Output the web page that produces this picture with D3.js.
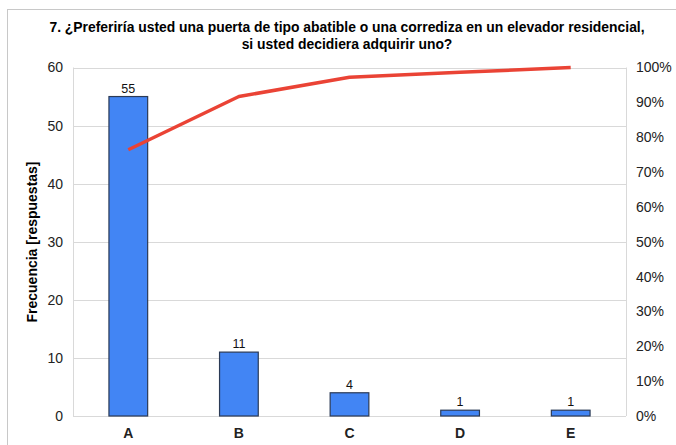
<!DOCTYPE html>
<html>
<head>
<meta charset="utf-8">
<script src="https://cdn.jsdelivr.net/npm/d3@7"></script>
<style>
  html, body { margin: 0; padding: 0; background: #fff; }
  svg { display: block; font-family: "Liberation Sans", Arial, sans-serif; }
</style>
</head>
<body>
<svg id="chart" width="676" height="445"></svg>
<script>
// Categories and response counts
const categories = ["A", "B", "C", "D", "E"];
const counts = [55, 11, 4, 1, 1];
const leftTicks = [0, 10, 20, 30, 40, 50, 60];
const rightTicks = [0, 0.1, 0.2, 0.3, 0.4, 0.5, 0.6, 0.7, 0.8, 0.9, 1];
const titleLines = [
  "7. ¿Preferiría usted una puerta de tipo abatible o una corrediza en un elevador residencial,",
  "si usted decidiera adquirir uno?"
];
const yTitle = "Frecuencia [respuestas]";

// Cumulative share for the Pareto line
const total = d3.sum(counts);
const cumulative = d3.cumsum(counts).map(v => v / total);

const svg = d3.select("#chart");
const W = 676, H = 445;
const plot = { left: 73, right: 626, top: 67.5, bottom: 416 };

// Outer frame
svg.append("rect")
  .attr("x", 7.5).attr("y", 9.5)
  .attr("width", W + 10).attr("height", H + 10)
  .attr("fill", "none").attr("stroke", "#c8c8c8").attr("stroke-width", 1);

// Title
svg.append("g").selectAll("text").data(titleLines).join("text")
  .attr("x", 347).attr("y", (d, i) => 32 + i * 17)
  .attr("text-anchor", "middle")
  .attr("font-weight", "bold").attr("font-size", 13.9).attr("fill", "#000")
  .text(d => d);

const x = d3.scaleBand().domain(categories).range([plot.left, plot.right]).paddingInner(0).paddingOuter(0);
const y = d3.scaleLinear().domain([0, 60]).range([plot.bottom, plot.top]);
const yr = d3.scaleLinear().domain([0, 1]).range([plot.bottom, plot.top]);

// Gridlines
svg.append("g").selectAll("line").data(leftTicks).join("line")
  .attr("x1", plot.left).attr("x2", plot.right)
  .attr("y1", d => Math.round(y(d)) + 0.5).attr("y2", d => Math.round(y(d)) + 0.5)
  .attr("stroke", "#d9d9d9").attr("stroke-width", 1);

// Plot frame sides
svg.append("line").attr("x1", plot.left + 0.5).attr("x2", plot.left + 0.5)
  .attr("y1", plot.top).attr("y2", plot.bottom).attr("stroke", "#d9d9d9");
svg.append("line").attr("x1", plot.right + 0.5).attr("x2", plot.right + 0.5)
  .attr("y1", plot.top).attr("y2", plot.bottom).attr("stroke", "#d9d9d9");

// Left axis
const leftAxis = d3.axisLeft(y).tickValues(leftTicks).tickSize(0).tickPadding(10).tickFormat(d3.format("d"));
const gl = svg.append("g").attr("transform", `translate(${plot.left},0)`).call(leftAxis);
gl.select(".domain").remove();
gl.selectAll("text").attr("font-size", 14).attr("fill", "#222").attr("font-family", "Liberation Sans, Arial, sans-serif");

// Right axis
const rightAxis = d3.axisRight(yr).tickValues(rightTicks).tickSize(0).tickPadding(10).tickFormat(d3.format(".0%"));
const gr = svg.append("g").attr("transform", `translate(${plot.right},0)`).call(rightAxis);
gr.select(".domain").remove();
gr.selectAll("text").attr("font-size", 14).attr("fill", "#222").attr("font-family", "Liberation Sans, Arial, sans-serif");

// Bottom axis
const bottomAxis = d3.axisBottom(x).tickSize(0).tickPadding(12);
const gb = svg.append("g").attr("transform", `translate(0,${plot.bottom})`).call(bottomAxis);
gb.select(".domain").remove();
gb.selectAll("text").attr("font-size", 14).attr("font-weight", "bold").attr("fill", "#222").attr("font-family", "Liberation Sans, Arial, sans-serif");

// Y axis title
svg.append("text")
  .attr("transform", `translate(37,242) rotate(-90)`)
  .attr("text-anchor", "middle")
  .attr("font-weight", "bold").attr("font-size", 14).attr("fill", "#000")
  .text(yTitle);

// Bars
const barW = x.bandwidth() * 0.35;
svg.append("g").selectAll("rect").data(counts).join("rect")
  .attr("x", (d, i) => x(categories[i]) + x.bandwidth() / 2 - barW / 2)
  .attr("y", d => y(d))
  .attr("width", barW)
  .attr("height", d => y(0) - y(d))
  .attr("fill", "#4285f4")
  .attr("stroke", "#2b3a55").attr("stroke-width", 1.2);

// Value labels
svg.append("g").selectAll("text").data(counts).join("text")
  .attr("x", (d, i) => x(categories[i]) + x.bandwidth() / 2)
  .attr("y", d => y(d) - 4)
  .attr("text-anchor", "middle")
  .attr("font-size", 12.5).attr("fill", "#111")
  .text(d => d);

// Cumulative line
const line = d3.line()
  .x((d, i) => x(categories[i]) + x.bandwidth() / 2)
  .y(d => yr(d));
svg.append("path").datum(cumulative)
  .attr("d", line)
  .attr("fill", "none")
  .attr("stroke", "#ea4335").attr("stroke-width", 3.5)
  .attr("stroke-linejoin", "round");
</script>
</body>
</html>
